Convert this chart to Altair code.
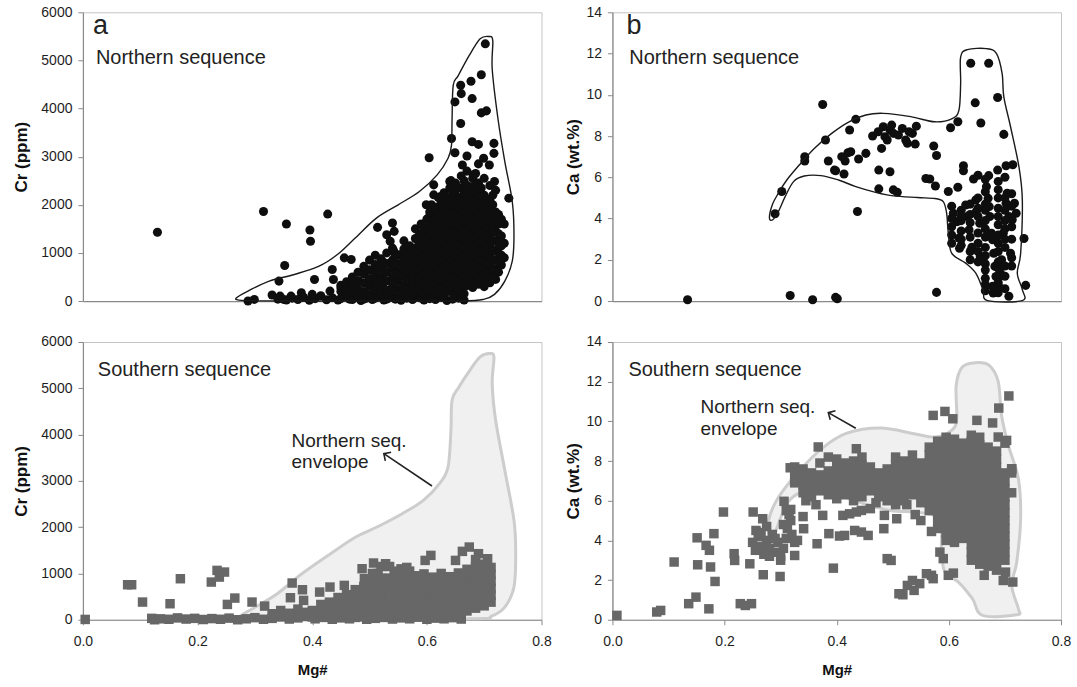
import altair as alt
import pandas as pd

FONT = "Liberation Sans"

# ---------------- Panel a : Northern sequence, Cr vs Mg# ----------------
a_sparse = [(0.130,1430),(0.315,1860),(0.355,1600),(0.396,1476),(0.397,1241),(0.427,1807),(0.352,738),(0.342,414),
            (0.288,0),(0.299,34),(0.330,124),(0.344,103),(0.404,448),(0.435,655),(0.437,448),(0.456,897),(0.468,862),
            (0.514,1531),(0.512,655),(0.540,1621),(0.543,1448),(0.530,1379),(0.536,1241),(0.542,1048),(0.538,759),
            (0.604,2979),(0.612,2414),(0.642,2503),(0.643,3379),(0.649,3083),(0.659,4483),(0.649,4138),(0.660,4310),
            (0.659,3690),(0.677,4566),(0.679,4207),(0.695,4703),(0.702,5345),(0.695,3910),(0.704,3952),(0.679,3310),
            (0.690,3255),(0.670,3014),(0.717,3276),(0.717,3069),(0.743,2138),(0.587,1379),(0.596,1241),(0.640,2483),
            (0.662,2828),(0.681,2621),(0.699,2966),(0.709,2828),(0.718,2483),(0.612,2207),(0.624,2172),(0.599,2000),
            (0.608,2000),(0.602,1724),(0.593,1379),(0.605,1379),(0.568,1069),(0.574,966),(0.556,966),(0.548,552),
            (0.506,414),(0.481,414),(0.475,207),(0.450,276),(0.431,207),(0.400,138),(0.381,172),(0.363,103),(0.350,34)]
a_band = [(0.34,40),(0.355,20),(0.365,60),(0.375,30),(0.385,80),(0.395,15),(0.405,50),(0.415,110),(0.425,25),(0.435,70),
          (0.445,20),(0.455,130),(0.465,40),(0.475,90),(0.485,10),(0.495,60),(0.505,30),(0.515,100),(0.525,20),(0.535,70),
          (0.545,40),(0.555,15),(0.565,60),(0.575,30),(0.585,90),(0.595,20),(0.605,50),(0.615,30),(0.625,80),(0.635,10),
          (0.645,40),(0.655,60),(0.665,20)]
a_cols = {
    0.45: [50, 200, 330], 0.46: [100, 250, 400], 0.47: [30, 180, 350, 500], 0.48: [80, 250, 420, 600],
    0.49: [40, 200, 380, 560, 720], 0.50: [120, 300, 470, 650, 850], 0.51: [60, 230, 400, 560, 760, 950],
    0.52: [150, 330, 500, 700, 880], 0.53: [40, 220, 420, 600, 780, 1000], 0.54: [120, 300, 480, 680, 850, 1100],
    0.55: [60, 240, 420, 600, 780, 960], 0.56: [150, 330, 520, 700, 880, 1080, 1250],
    0.57: [80, 260, 440, 620, 800, 980, 1150], 0.58: [160, 350, 540, 720, 900, 1100, 1300, 1500],
    0.59: [60, 250, 440, 630, 820, 1000, 1200, 1400, 1600],
    0.60: [150, 340, 530, 720, 910, 1100, 1300, 1500, 1700],
    0.61: [80, 260, 450, 640, 830, 1020, 1210, 1400, 1600, 1800],
    0.62: [170, 360, 550, 740, 930, 1120, 1310, 1500, 1700, 1900, 2150],
    0.63: [100, 290, 480, 670, 860, 1050, 1240, 1430, 1620, 1810, 2000, 2250],
    0.64: [200, 390, 580, 770, 960, 1150, 1340, 1530, 1720, 1910, 2100, 2350],
    0.65: [120, 300, 490, 680, 870, 1060, 1250, 1440, 1630, 1820, 2010, 2200, 2450],
    0.66: [60, 250, 440, 630, 820, 1010, 1200, 1390, 1580, 1770, 1960, 2150, 2350, 2600],
    0.67: [320, 510, 700, 890, 1080, 1270, 1460, 1650, 1840, 2030, 2220, 2400, 2700],
    0.68: [280, 470, 660, 850, 1040, 1230, 1420, 1610, 1800, 1990, 2180, 2380, 2550],
    0.69: [350, 540, 730, 920, 1110, 1300, 1490, 1680, 1870, 2060, 2250, 2450, 2850],
    0.70: [300, 490, 680, 870, 1060, 1250, 1440, 1630, 1820, 2010, 2200, 2550],
    0.71: [380, 570, 760, 950, 1140, 1330, 1520, 1710, 1900, 2100, 2400],
    0.72: [450, 650, 850, 1050, 1250, 1450, 1650, 1850, 2300],
    0.73: [750, 950, 1150, 1350, 1700], 0.735: [900, 1200, 1600],
}
a_fill = {
    0.525: [80, 260, 440, 620, 800], 0.545: [200, 380, 560, 760, 950], 0.565: [240, 420, 610, 790, 980],
    0.575: [170, 350, 530, 710, 890, 1070], 0.585: [250, 450, 650, 850, 1050, 1250],
    0.595: [150, 350, 540, 730, 920, 1110, 1300, 1500],
    0.605: [250, 440, 630, 820, 1010, 1200, 1400, 1600, 1850],
    0.615: [170, 360, 550, 740, 930, 1120, 1310, 1500, 1700, 1950],
    0.625: [260, 450, 640, 830, 1020, 1210, 1400, 1600, 1800, 2050],
    0.635: [200, 390, 580, 770, 960, 1150, 1340, 1530, 1720, 1910, 2150],
    0.645: [290, 480, 670, 860, 1050, 1240, 1430, 1620, 1810, 2000, 2250],
    0.655: [210, 400, 590, 780, 970, 1160, 1350, 1540, 1730, 1920, 2110, 2350],
    0.665: [150, 350, 540, 730, 920, 1110, 1300, 1490, 1680, 1870, 2060, 2250, 2500],
    0.675: [420, 610, 800, 990, 1180, 1370, 1560, 1750, 1940, 2130, 2300],
    0.685: [380, 570, 760, 950, 1140, 1330, 1520, 1710, 1900, 2090, 2280, 2650],
    0.695: [450, 640, 830, 1020, 1210, 1400, 1590, 1780, 1970, 2150, 2350],
    0.705: [400, 590, 780, 970, 1160, 1350, 1540, 1730, 1920, 2100],
    0.715: [480, 670, 860, 1050, 1240, 1430, 1620, 1810, 2000, 2200],
    0.725: [600, 800, 1000, 1200, 1400, 1600, 1800],
}
a_env = [(0.268,69),(0.288,207),(0.325,414),(0.369,552),(0.412,724),(0.444,966),(0.475,1310),(0.512,1724),
         (0.550,2000),(0.587,2276),(0.618,2621),(0.637,2966),(0.643,3241),(0.644,3793),(0.646,4483),(0.655,4690),
         (0.674,5103),(0.693,5448),(0.708,5497),(0.715,5414),(0.714,4828),(0.724,3793),(0.736,2897),(0.749,2069),
         (0.752,1379),(0.749,828),(0.736,414),(0.718,138),(0.699,34),(0.662,2),(0.537,0),(0.412,0),(0.307,4),(0.272,20)]

# ---------------- Panel b : Northern sequence, Ca vs Mg# ----------------
b_sparse = [(0.134,0.06),(0.317,0.27),(0.357,0.06),(0.398,0.18),(0.401,0.11),(0.578,0.42),(0.290,4.23),(0.302,5.31),
            (0.343,7.0),(0.343,6.79),(0.375,9.53),(0.380,7.81),(0.385,6.79),(0.396,6.35),(0.398,6.32),(0.413,6.16),
            (0.409,7.0),(0.415,6.79),(0.420,7.19),(0.423,8.29),(0.425,7.24),(0.434,8.81),(0.439,6.89),(0.452,7.16),
            (0.437,4.34),(0.464,8.0),(0.474,8.21),(0.483,8.45),(0.486,7.97),(0.490,7.81),(0.495,8.29),(0.498,8.53),
            (0.501,8.13),(0.510,8.05),(0.517,8.37),(0.523,7.81),(0.526,7.65),(0.529,8.21),(0.535,8.13),(0.540,7.61),
            (0.542,8.48),(0.480,7.40),(0.475,6.35),(0.475,5.44),(0.495,6.27),(0.501,5.39),(0.508,5.27),(0.559,5.94),
            (0.566,5.92),(0.576,5.58),(0.573,7.52),(0.578,7.06),(0.599,5.31),(0.603,8.40),(0.616,8.69),(0.616,5.52),
            (0.626,6.56),(0.626,6.32),(0.644,5.92),(0.639,11.53),(0.671,11.53),(0.647,9.61),(0.657,8.63),(0.687,9.87),
            (0.698,8.08),(0.671,6.08),(0.687,6.35),(0.702,6.56),(0.714,6.61),(0.734,3.03),(0.737,0.76),
            (0.608,4.26),(0.615,3.85),(0.618,3.05),(0.619,2.56),(0.630,4.66),(0.633,4.10),(0.636,3.45),(0.641,2.61),
            (0.648,4.9),(0.649,4.34),(0.655,3.77),(0.656,2.16),(0.661,2.0),(0.667,5.55),(0.670,4.98),(0.672,4.58),
            (0.673,4.10),(0.676,3.29),(0.678,2.97),(0.680,2.32),(0.682,1.68),(0.684,1.19),(0.678,0.71),(0.679,0.39),
            (0.689,0.71),(0.692,1.35),(0.694,2.0),(0.697,3.29),(0.702,4.74),(0.704,5.23),(0.707,4.10),(0.710,2.32),
            (0.707,0.23),(0.717,4.74),(0.720,4.26),(0.713,3.94)]
b_cols = {
    0.605: [4.0, 3.6, 3.2, 2.8, 4.6], 0.622: [4.4, 3.9, 3.4, 3.0, 2.7, 4.1],
    0.638: [4.7, 4.2, 3.8, 3.1, 2.4, 2.0], 0.652: [5.0, 4.5, 4.1, 3.3, 2.8, 2.4, 1.9, 6.1],
    0.665: [5.9, 5.3, 4.7, 4.4, 3.9, 3.5, 3.1, 2.6, 2.2, 1.8, 1.5, 1.1, 0.8, 0.5],
    0.688: [5.8, 5.4, 5.0, 4.5, 4.1, 3.7, 3.2, 2.8, 2.4, 1.9, 1.6, 1.1, 0.9, 0.4],
    0.700: [6.0, 5.0, 4.4, 3.9, 3.5, 3.0, 2.6, 1.7, 1.2, 0.6], 0.712: [5.2, 4.6, 3.6, 3.0, 2.1, 1.7],
}
b_env = [(0.280,4.02),(0.285,4.66),(0.296,5.23),(0.311,5.87),(0.336,6.68),(0.360,7.40),(0.391,8.13),(0.422,8.69),
         (0.452,9.02),(0.483,9.10),(0.532,8.94),(0.575,8.69),(0.606,8.85),(0.618,9.26),(0.621,10.55),(0.621,11.84),
         (0.633,12.19),(0.667,12.24),(0.685,12.0),(0.695,11.03),(0.698,9.9),(0.710,8.45),(0.725,6.5),(0.731,4.9),
         (0.728,2.32),(0.722,1.35),(0.731,0.55),(0.731,0.02),(0.669,0.02),(0.661,0.55),(0.648,1.35),(0.630,1.84),
         (0.605,2.32),(0.599,3.29),(0.596,4.26),(0.590,4.82),(0.575,4.97),(0.544,5.02),(0.501,5.10),(0.471,5.26),
         (0.434,5.55),(0.403,5.87),(0.372,6.08),(0.342,6.06),(0.323,5.79),(0.308,5.06),(0.296,4.34),(0.286,3.94)]

# ---------------- Panel c : Southern sequence, Cr vs Mg# ----------------
c_sparse = [(0.004,7),(0.078,756),(0.085,756),(0.104,382),(0.152,346),(0.170,886),(0.224,814),(0.234,1066),
            (0.238,922),(0.247,1030),(0.252,331),(0.265,468),(0.295,382),(0.317,295),(0.365,793),(0.362,476),
            (0.383,648),(0.385,418),(0.401,166),(0.413,598),(0.431,706),(0.456,742),(0.487,1102),(0.491,886),
            (0.507,1225),(0.528,1210),(0.543,994),(0.550,778),(0.597,1282),(0.607,1390),(0.650,1282),(0.662,1477),
            (0.674,1570),(0.690,1427),(0.706,1318),(0.520,1150),(0.515,1000),(0.555,1100),(0.570,1050),(0.580,950),
            (0.535,900)]
c_band = [(0.12,30),(0.125,0),(0.135,20),(0.15,10),(0.165,40),(0.18,15),(0.195,30),(0.21,5),(0.225,25),(0.24,10),
          (0.255,35),(0.27,0),(0.285,20),(0.30,45),(0.315,10),(0.33,30),(0.345,60),(0.36,15),(0.375,40),(0.39,70),
          (0.405,20),(0.42,50),(0.435,10),(0.45,40),(0.465,20),(0.48,60),(0.495,10),(0.51,30),(0.525,50),(0.54,15),
          (0.555,40),(0.57,20),(0.585,55),(0.60,10),(0.615,35),(0.63,20),(0.645,45),(0.66,15)]
c_cols = {
    0.33: [130], 0.345: [90, 200], 0.36: [140], 0.375: [100, 230], 0.39: [160],
    0.40: [60, 200], 0.415: [180, 330], 0.43: [80, 230, 380], 0.445: [190, 340, 480],
    0.46: [100, 250, 400, 540], 0.475: [50, 200, 350, 500, 650], 0.49: [120, 270, 420, 570, 720],
    0.505: [60, 210, 360, 510, 660, 810, 1000], 0.52: [140, 290, 440, 590, 740, 900],
    0.535: [70, 220, 370, 520, 670, 820, 1150], 0.55: [150, 300, 450, 600, 750, 900, 1050],
    0.565: [80, 230, 380, 530, 680, 830, 980, 1130], 0.58: [160, 310, 460, 610, 760, 910],
    0.595: [90, 240, 390, 540, 690, 840, 990], 0.61: [170, 320, 470, 620, 770, 920],
    0.625: [100, 250, 400, 550, 700, 850, 1000], 0.64: [180, 330, 480, 630, 780, 930],
    0.655: [110, 260, 410, 560, 710, 860, 1010], 0.67: [190, 340, 490, 640, 790, 940, 1090],
    0.685: [250, 400, 550, 700, 850, 1000, 1150, 1300], 0.70: [300, 450, 600, 750, 900, 1050, 1200],
    0.712: [380, 530, 680, 830, 980, 1130],
}
c_env = [(0.272,58),(0.301,274),(0.339,562),(0.382,994),(0.432,1427),(0.476,1787),(0.513,2003),(0.557,2291),
         (0.594,2579),(0.622,2939),(0.637,3300),(0.642,4092),(0.644,4741),(0.656,5029),(0.675,5389),(0.693,5677),
         (0.709,5749),(0.717,5677),(0.714,5101),(0.720,4308),(0.736,3228),(0.752,2147),(0.755,1427),(0.752,706),
         (0.736,274),(0.712,72),(0.687,22),(0.476,7),(0.289,22)]

# ---------------- Panel d : Southern sequence, Ca vs Mg# ----------------
d_sparse = [(0.008,0.22),(0.079,0.39),(0.086,0.47),(0.110,2.91),(0.136,0.81),(0.149,1.14),(0.151,4.13),(0.152,2.77),
            (0.167,3.75),(0.173,3.50),(0.175,2.66),(0.172,0.55),(0.181,4.34),(0.183,1.93),(0.198,5.43),(0.217,3.33),
            (0.218,2.99),(0.228,0.81),(0.237,0.72),(0.248,0.81),(0.245,2.82),(0.251,5.43),(0.256,4.50),(0.268,5.09),
            (0.269,2.27),(0.299,2.18),(0.306,5.97),(0.318,5.56),(0.317,7.66),(0.325,3.24),(0.341,4.59),(0.367,8.71),
            (0.363,5.80),(0.365,3.83),(0.375,5.26),(0.386,4.34),(0.394,2.60),(0.405,4.22),(0.414,4.25),(0.411,5.26),
            (0.423,5.34),(0.435,5.43),(0.444,5.51),(0.432,4.50),(0.444,4.42),(0.456,4.25),(0.484,4.59),(0.485,5.26),
            (0.490,3.08),(0.497,2.99),(0.507,5.09),(0.511,1.31),(0.518,1.26),(0.526,1.73),(0.535,1.98),(0.538,1.48),
            (0.548,1.82),(0.560,2.32),(0.569,2.24),(0.572,2.07),(0.569,4.45),(0.572,10.30),(0.593,10.50),(0.607,10.13),
            (0.599,2.24),(0.608,2.35),(0.584,3.41),(0.590,3.08),(0.650,10.05),(0.678,9.92),(0.689,10.67),(0.707,11.28),
            (0.663,2.24),(0.688,9.21),(0.703,9.04),(0.697,1.98),(0.714,1.90),(0.701,2.40),(0.712,7.61),(0.550,5.0),
            (0.540,5.3),(0.525,5.8),(0.460,5.6),(0.470,5.9),(0.340,5.2),(0.345,6.0),(0.435,8.62)]
d_left = [(0.25,3.9),(0.255,3.5),(0.26,4.2),(0.265,3.7),(0.27,3.3),(0.275,4.0),(0.28,3.6),(0.285,4.3),(0.29,3.4),
          (0.295,3.9),(0.30,3.2),(0.305,3.6),(0.31,4.1),(0.312,4.6),(0.318,5.0),(0.32,4.3),(0.325,3.9),(0.33,4.0),
          (0.30,3.0),(0.28,3.2),(0.265,4.4),(0.275,4.7),(0.29,4.1),(0.305,4.8),(0.31,5.5),(0.315,5.3)]
d_cols = {
    0.325: [6.9, 7.3, 7.7], 0.34: [6.4, 6.8, 7.2, 7.6], 0.355: [6.2, 6.6, 7.0, 7.4],
    0.37: [6.5, 6.9, 7.3, 7.9], 0.385: [6.3, 6.7, 7.1, 7.5, 8.2], 0.40: [6.1, 6.5, 6.9, 7.3, 7.7, 8.1],
    0.415: [6.3, 6.7, 7.1, 7.5, 7.9], 0.43: [6.0, 6.4, 6.8, 7.2, 7.6, 8.0], 0.445: [6.2, 6.6, 7.0, 7.4, 7.8, 8.2],
    0.46: [6.5, 6.9, 7.3, 7.7], 0.475: [6.2, 6.6, 7.0, 7.4], 0.49: [6.0, 6.4, 6.8, 7.2, 7.6],
    0.505: [5.8, 6.2, 6.6, 7.0, 7.4, 7.8, 8.2], 0.52: [6.0, 6.4, 6.8, 7.2, 7.6, 8.0],
    0.535: [6.3, 6.7, 7.1, 7.5, 7.9, 8.3], 0.55: [5.9, 6.3, 6.7, 7.1, 7.5, 7.9],
    0.565: [5.5, 5.9, 6.3, 6.7, 7.1, 7.5, 7.9, 8.3, 8.7],
    0.58: [4.6, 5.0, 5.4, 5.8, 6.2, 6.6, 7.0, 7.4, 7.8, 8.2, 8.6, 9.0],
    0.595: [4.0, 4.4, 4.8, 5.2, 5.6, 6.0, 6.4, 6.8, 7.2, 7.6, 8.0, 8.4, 8.8, 9.2],
    0.61: [3.9, 4.3, 4.7, 5.1, 5.5, 5.9, 6.3, 6.7, 7.1, 7.5, 7.9, 8.3, 8.7, 9.1],
    0.625: [4.1, 4.5, 4.9, 5.3, 5.7, 6.1, 6.5, 6.9, 7.3, 7.7, 8.1, 8.5, 8.9],
    0.64: [3.0, 3.4, 3.8, 4.2, 4.6, 5.0, 5.4, 5.8, 6.2, 6.6, 7.0, 7.4, 7.8, 8.2, 8.6, 9.0, 9.3],
    0.655: [2.8, 3.2, 3.6, 4.0, 4.4, 4.8, 5.2, 5.6, 6.0, 6.4, 6.8, 7.2, 7.6, 8.0, 8.4, 8.8, 9.2],
    0.67: [2.7, 3.1, 3.5, 3.9, 4.3, 4.7, 5.1, 5.5, 5.9, 6.3, 6.7, 7.1, 7.5, 7.9, 8.3, 8.7],
    0.685: [2.5, 2.9, 3.3, 3.7, 4.1, 4.5, 4.9, 5.3, 5.7, 6.1, 6.5, 6.9, 7.3, 7.7, 8.1, 8.5],
    0.70: [3.0, 3.4, 3.8, 4.2, 4.6, 5.0, 5.4, 5.8, 6.2, 6.6, 7.0, 7.4, 8.9],
    0.712: [6.4, 7.4, 7.6],
}
d_env = [(0.278,4.94),(0.295,6.12),(0.332,7.46),(0.374,8.64),(0.417,9.39),(0.478,9.66),(0.538,9.38),(0.575,9.21),
         (0.605,9.55),(0.614,10.13),(0.613,11.8),(0.624,12.74),(0.648,12.96),(0.672,12.82),(0.688,12.0),(0.694,10.3),
         (0.706,8.8),(0.724,7.1),(0.728,5.1),(0.721,2.9),(0.712,1.73),(0.724,0.55),(0.721,0.25),(0.660,0.22),
         (0.642,1.06),(0.617,1.9),(0.593,2.4),(0.587,3.41),(0.586,4.76),(0.575,5.26),(0.538,5.43),(0.496,5.51),
         (0.447,5.86),(0.405,6.27),(0.368,6.52),(0.338,6.44),(0.313,5.93),(0.295,4.76),(0.289,4.25),(0.283,4.08)]

# ---------------- labels ----------------
x_ticks = [0.0, 0.2, 0.4, 0.6, 0.8]
cr_ticks = [0, 1000, 2000, 3000, 4000, 5000, 6000]
ca_ticks = [0, 2, 4, 6, 8, 10, 12, 14]


def cloud(*groups, cols=()):
    rows = []
    for g in groups:
        rows += [{"mg": x, "v": y} for x, y in g]
    for c in cols:
        for x, ys in c.items():
            rows += [{"mg": x, "v": y} for y in ys]
    return pd.DataFrame(rows)


def poly(pairs):
    return pd.DataFrame([{"mg": x, "v": y, "o": i} for i, (x, y) in enumerate(pairs)])


def panel(pts, env, ydom, yticks, ytitle, bottom, width, height, letter, seq_label, seq_pos,
          letter_pos=None, note=None, arrow=None, title_pad=10):
    xs = alt.Scale(domain=[0, 0.8], nice=False)
    ys = alt.Scale(domain=ydom, nice=False)
    if bottom:
        xaxis = alt.Axis(values=x_ticks, format=".1f", title="Mg#", titleFontSize=15, titleFontWeight="bold",
                         labelPadding=10, titlePadding=14, tickSize=5, labelFlush=False)
    else:
        xaxis = alt.Axis(labels=False, ticks=False, title=None)
    yaxis = alt.Axis(values=yticks, format="d", title=ytitle, titleFontSize=17, titleFontWeight="bold",
                     labelPadding=6, titlePadding=title_pad, tickSize=5, labelFlush=False)
    X = alt.X("mg:Q", scale=xs, axis=xaxis)
    Y = alt.Y("v:Q", scale=ys, axis=yaxis)

    layers = []
    if bottom:
        env_l = alt.Chart(poly(env)).mark_line(interpolate="cardinal-closed", fill="#f0f0f0", stroke="#cdcdcd",
                                               strokeWidth=3).encode(x=X, y=Y, order="o:Q")
        pt_l = alt.Chart(pts).mark_square(size=90, color="#676767", opacity=1).encode(x=X, y=Y)
        layers += [env_l, pt_l]
    else:
        pt_l = alt.Chart(pts).mark_circle(size=82, color="#0e0e0e", opacity=1).encode(x=X, y=Y)
        env_l = alt.Chart(poly(env)).mark_line(interpolate="cardinal-closed", color="#1a1a1a",
                                               strokeWidth=1.4).encode(x=X, y=Y, order="o:Q")
        layers += [pt_l, env_l]

    txt = [{"mg": seq_pos[0], "v": seq_pos[1], "t": seq_label}]
    tl = alt.Chart(pd.DataFrame(txt)).mark_text(align="left", baseline="alphabetic", fontSize=20, font=FONT,
                                                color="#222").encode(x=X, y=Y, text="t:N")
    layers.append(tl)
    if letter:
        lt = alt.Chart(pd.DataFrame([{"mg": letter_pos[0], "v": letter_pos[1], "t": letter}])).mark_text(
            align="left", baseline="alphabetic", fontSize=27, font=FONT, color="#222").encode(x=X, y=Y, text="t:N")
        layers.append(lt)
    if note:
        nt = alt.Chart(pd.DataFrame(note)).mark_text(align="left", baseline="alphabetic", fontSize=19, font=FONT,
                                                     color="#222").encode(x=X, y=Y, text="t:N")
        layers.append(nt)
    if arrow:
        (tx, ty), (hx, hy), ang = arrow
        ln = alt.Chart(pd.DataFrame([{"mg": tx, "v": ty, "o": 0}, {"mg": hx, "v": hy, "o": 1}])).mark_line(
            color="#222", strokeWidth=1.6).encode(x=X, y=Y, order="o:Q")
        hd = alt.Chart(pd.DataFrame([{"mg": hx, "v": hy}])).mark_point(
            shape="M-1,-1L0,0L-1,1", filled=False, size=110, angle=ang, color="#222", strokeWidth=1.6,
            opacity=1).encode(x=X, y=Y)
        layers += [ln, hd]
    return alt.layer(*layers).properties(width=width, height=height)


pa = panel(cloud(a_sparse, a_band, cols=[a_cols, a_fill]), a_env, [0, 6000], cr_ticks, "Cr (ppm)", False, 459, 289,
           "a", "Northern sequence", (0.0227, 4920), letter_pos=(0.0175, 5543))
pb = panel(cloud(b_sparse, cols=[b_cols]), b_env, [0, 14], ca_ticks, "Ca (wt.%)", False, 449, 289,
           "b", "Northern sequence", (0.030, 11.48), letter_pos=(0.025, 12.93), title_pad=3)
pc = panel(cloud(c_sparse, c_band, cols=[c_cols]), c_env, [0, 6000], cr_ticks, "Cr (ppm)", True, 459, 278,
           None, "Southern sequence", (0.026, 5266),
           note=[{"mg": 0.364, "v": 3734, "t": "Northern seq."}, {"mg": 0.364, "v": 3281, "t": "envelope"}],
           arrow=((0.609, 2889), (0.525, 3588), 213.8))
pd_ = panel(cloud(d_sparse, d_left, cols=[d_cols]), d_env, [0, 14], ca_ticks, "Ca (wt.%)", True, 449, 278,
            None, "Southern sequence", (0.0285, 12.29),
            note=[{"mg": 0.157, "v": 10.42, "t": "Northern seq."}, {"mg": 0.157, "v": 9.32, "t": "envelope"}],
            arrow=((0.434, 9.65), (0.385, 10.44), 209.7), title_pad=3)

chart = alt.concat(pa, pb, pc, pd_, columns=2, spacing={"row": 41, "column": 71}, bounds="flush").properties(
    padding={"left": 12, "top": 4, "right": 5, "bottom": 5}
).configure(font=FONT).configure_view(stroke="#c4c4c4", strokeWidth=1).configure_axis(
    domainColor="#8a8a8a", tickColor="#8a8a8a", labelColor="#1e1e1e", titleColor="#111",
    labelFontSize=14, labelFont=FONT, titleFont=FONT, grid=False, domainWidth=1.2
)

chart.save("out.html", embed_options={"renderer": "svg", "actions": False})
